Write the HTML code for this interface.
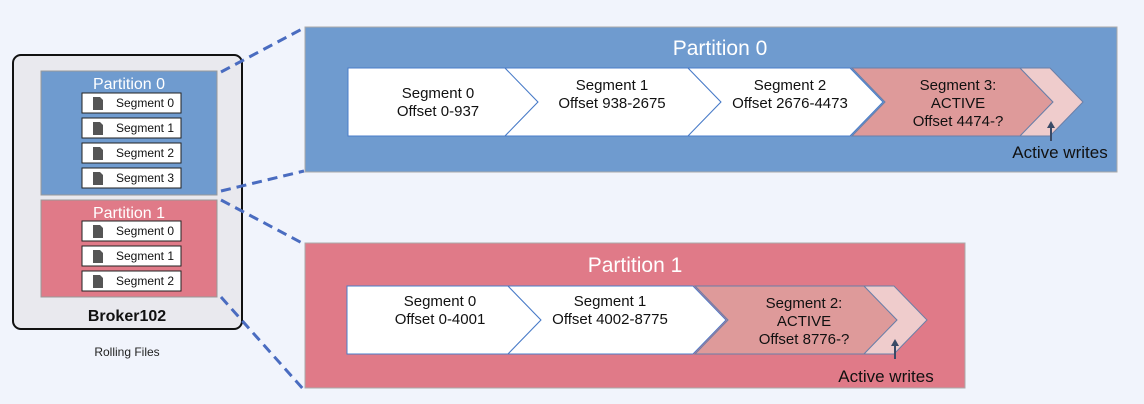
<!DOCTYPE html>
<html><head><style>
body{margin:0;background:#f1f4fc;}
svg{display:block;font-family:"Liberation Sans","DejaVu Sans",sans-serif;}
</style></head><body>
<svg width="1144" height="404" viewBox="0 0 1144 404">
<rect width="1144" height="404" fill="#f1f4fc"/>
<!-- broker -->
<rect x="13" y="55" width="229" height="274" rx="8" fill="#e9e9ee" stroke="#111" stroke-width="2"/>
<rect x="41" y="71" width="176" height="124" fill="#6f9bcf" stroke="#999" stroke-width="1"/>
<rect x="41" y="200" width="176" height="97" fill="#e07a88" stroke="#999" stroke-width="1"/>
<text x="129" y="89" font-size="16" fill="#fff" text-anchor="middle">Partition 0</text>
<text x="129" y="218" font-size="16" fill="#fff" text-anchor="middle">Partition 1</text>
<g stroke="#222" stroke-width="1">
<rect x="82" y="93" width="99" height="20" fill="#fff"/>
<rect x="82" y="118" width="99" height="20" fill="#fff"/>
<rect x="82" y="143" width="99" height="20" fill="#fff"/>
<rect x="82" y="168" width="99" height="20" fill="#fff"/>
<rect x="82" y="221" width="99" height="20" fill="#fff"/>
<rect x="82" y="246" width="99" height="20" fill="#fff"/>
<rect x="82" y="271" width="99" height="20" fill="#fff"/>
</g>
<g fill="#555">
<path d="M93 97h7l3 3v10h-10z"/><path d="M93 122h7l3 3v10h-10z"/><path d="M93 147h7l3 3v10h-10z"/><path d="M93 172h7l3 3v10h-10z"/>
<path d="M93 225h7l3 3v10h-10z"/><path d="M93 250h7l3 3v10h-10z"/><path d="M93 275h7l3 3v10h-10z"/>
</g>
<g font-size="12" fill="#111" text-anchor="middle">
<text x="145" y="107">Segment 0</text><text x="145" y="132">Segment 1</text><text x="145" y="157">Segment 2</text><text x="145" y="182">Segment 3</text>
<text x="145" y="235">Segment 0</text><text x="145" y="260">Segment 1</text><text x="145" y="285">Segment 2</text>
</g>
<text x="127" y="321" font-size="16" font-weight="bold" fill="#111" text-anchor="middle">Broker102</text>
<text x="127" y="356" font-size="12" fill="#222" text-anchor="middle">Rolling Files</text>

<!-- dashed connectors -->
<g stroke="#4a6cc0" stroke-width="3" stroke-dasharray="10,6" fill="none">
<line x1="221" y1="72" x2="302" y2="29"/>
<line x1="221" y1="191" x2="304" y2="171"/>
<line x1="221" y1="200" x2="304" y2="244"/>
<line x1="221" y1="297" x2="304" y2="390"/>
</g>

<!-- Partition 0 big -->
<rect x="305" y="27" width="812" height="145" fill="#6f9bcf" stroke="#aaa"/>
<text x="720" y="55" font-size="21" fill="#fff" text-anchor="middle">Partition 0</text>
<g stroke="#4a7cc8" stroke-width="1">
<path d="M348 68H505L538 102L505 136H348Z" fill="#fff"/>
<path d="M505 68H688L721 102L688 136H505L538 102Z" fill="#fff"/>
<path d="M688 68H850L883 102L850 136H688L721 102Z" fill="#fff"/>
<path d="M852 68H1020L1053 102L1020 136H852L885 102Z" fill="#de9a9a" stroke="#6a7fa8"/>
<path d="M1020 68H1050L1083 102L1050 136H1020L1053 102Z" fill="#efcccc" stroke="#6a7fa8"/>
</g>
<g font-size="15" fill="#111" text-anchor="middle">
<text x="438" y="98">Segment 0</text><text x="438" y="116">Offset 0-937</text>
<text x="612" y="90">Segment 1</text><text x="612" y="108">Offset 938-2675</text>
<text x="790" y="90">Segment 2</text><text x="790" y="108">Offset 2676-4473</text>
<text x="958" y="90">Segment 3:</text><text x="958" y="108">ACTIVE</text><text x="958" y="126">Offset 4474-?</text>
</g>
<line x1="1051" y1="141" x2="1051" y2="126" stroke="#3a4a66" stroke-width="2"/>
<path d="M1047 128L1051 121L1055 128Z" fill="#3a4a66"/>
<text x="1060" y="158" font-size="17" fill="#111" text-anchor="middle">Active writes</text>

<!-- Partition 1 big -->
<rect x="305" y="243" width="660" height="145" fill="#e07a88" stroke="#aaa"/>
<text x="635" y="272" font-size="21" fill="#fff" text-anchor="middle">Partition 1</text>
<g stroke="#4a7cc8" stroke-width="1">
<path d="M347 286H508L541 320L508 354H347Z" fill="#fff"/>
<path d="M508 286H693L726 320L693 354H508L541 320Z" fill="#fff"/>
<path d="M695 286H864L897 320L864 354H695L728 320Z" fill="#de9a9a" stroke="#6a7fa8"/>
<path d="M864 286H894L927 320L894 354H864L897 320Z" fill="#efcccc" stroke="#6a7fa8"/>
</g>
<g font-size="15" fill="#111" text-anchor="middle">
<text x="440" y="306">Segment 0</text><text x="440" y="324">Offset 0-4001</text>
<text x="610" y="306">Segment 1</text><text x="610" y="324">Offset 4002-8775</text>
<text x="804" y="308">Segment 2:</text><text x="804" y="326">ACTIVE</text><text x="804" y="344">Offset 8776-?</text>
</g>
<line x1="895" y1="359" x2="895" y2="344" stroke="#3a4a66" stroke-width="2"/>
<path d="M891 346L895 339L899 346Z" fill="#3a4a66"/>
<text x="886" y="382" font-size="17" fill="#111" text-anchor="middle">Active writes</text>
</svg>
</body></html>
